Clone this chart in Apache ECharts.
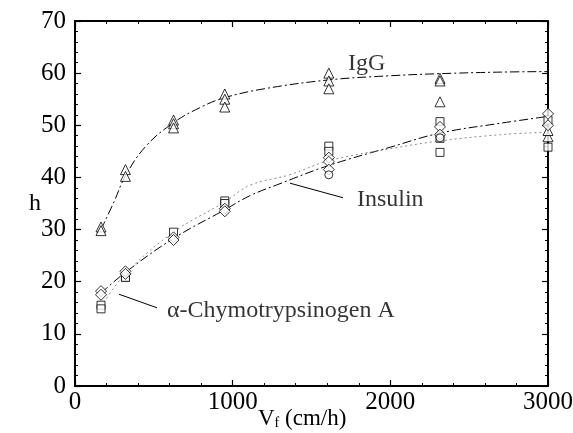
<!DOCTYPE html>
<html><head><meta charset="utf-8">
<script src="https://cdn.jsdelivr.net/npm/echarts@6/dist/echarts.min.js"></script>
<style>html,body{margin:0;padding:0;background:#fff}#c{width:573px;height:433px}</style>
</head><body><div id="c"></div>
<script>
// ---- data ----
const xTicks = [0, 1000, 2000, 3000];
const yTicks = [0, 10, 20, 30, 40, 50, 60, 70];
const triangles = [[165,30.5],[165,29.8],[320,41.5],[320,40.2],[625,51],[625,50.3],[625,49.5],[950,56],[950,55],[950,53.5],[1610,60],[1610,58.5],[1610,57],[2315,59],[2315,58.5],[2315,54.5],[3000,47.8],[3000,49]];
const squares = [[165,15.5],[165,14.8],[320,21],[320,20.8],[625,29.5],[950,35.5],[950,35],[1610,46],[1610,45],[2315,50.7],[2315,47.5],[2315,44.8],[3000,51],[3000,45.8]];
const diamonds = [[165,18.2],[165,17.5],[320,22],[320,21.5],[625,28.5],[625,28],[950,34],[950,33.5],[1610,43.8],[1610,43],[1610,41.5],[2315,49.7],[2315,48.2],[3000,52.2],[3000,50]];
const circles = [[1610,40.5],[2315,47.6]];
const iggX = [165,250,320,450,625,800,950,1200,1610,2000,2315,2700,3000];
const iggY = [30,35.5,40.3,46,50.5,53.5,55.3,57,58.7,59.5,59.9,60.2,60.3];
const chymoX = [165,320,625,950,1110,1300,1610,2000,2315,2700,3000];
const chymoY = [17.8,21.8,28.3,33.8,36.5,38.8,42.3,45.8,48.5,50.4,51.7];
const insX = [165,320,625,950,1110,1360,1610,2000,2315,2700,3000];
const insY = [15.2,21.5,29.5,35.3,38.5,40.5,43.2,45.5,47,48.2,48.7];
const labelTexts = ['IgG', 'Insulin', 'α-Chymotrypsinogen A'];
const labelPos = [[1731,61.8],[1788,35.7],[583,14.4]];
const insLeader = [[1363,38.9],[1700,36.1]];
const chymoLeader = [[279,17.6],[520,15]];

const zip = (xs, ys) => xs.map((x, i) => [x, ys[i]]);
const FONT = "'Liberation Serif', 'DejaVu Serif', serif";
const chart = echarts.init(document.getElementById('c'), null, {renderer: 'canvas'});
const axisCommon = {
  axisLine: {show: true, onZero: false, lineStyle: {color: '#000', width: 2}},
  axisTick: {show: true, inside: true, length: 6, lineStyle: {color: '#000', width: 1.2}},
  minorTick: {show: true, splitNumber: 5, length: 3, lineStyle: {color: '#000', width: 1}},
  splitLine: {show: false}
};
const marker = (name, sym, data, size) => ({
  name, type: 'scatter', symbol: sym, symbolSize: size, data, z: 5,
  itemStyle: {color: '#fff', borderColor: '#000', borderWidth: 1}
});
const curve = (data, type, color, width) => ({
  type: 'line', data, smooth: 0.4, symbol: 'none', z: 3,
  lineStyle: {color, width, type}
});
chart.setOption({
  animation: false,
  grid: {left: 75, right: 25, top: 21, bottom: 47, containLabel: false, outerBoundsMode: 'none'},
  graphic: [{
    type: 'text', left: 258, top: 407, z: 10,
    style: {
      text: '{v|V}{s|f}{v| (cm/h)}',
      x: 0, y: 0,
      rich: {
        v: {fontFamily: FONT, fontSize: 23, fill: '#000', lineHeight: 24},
        s: {fontFamily: FONT, fontSize: 14, fill: '#000', lineHeight: 24, verticalAlign: 'bottom', padding: [8, 0, 0, 0]}
      }
    }
  }],
  xAxis: [
    Object.assign({type: 'value', min: 0, max: 3000, interval: 1000, position: 'bottom',
      axisLabel: {fontFamily: FONT, fontSize: 25, color: '#000', margin: 4, formatter: v => String(v)}}, axisCommon),
    Object.assign({type: 'value', min: 0, max: 3000, interval: 1000, position: 'top', axisLabel: {show: false}}, axisCommon)
  ],
  yAxis: [
    Object.assign({type: 'value', min: 0, max: 70, interval: 10, position: 'left',
      name: 'h', nameLocation: 'middle', nameGap: 34, nameRotate: 0, nameMoveOverlap: false,
      nameTextStyle: {fontFamily: FONT, fontSize: 24, color: '#000'},
      axisLabel: {fontFamily: FONT, fontSize: 25, color: '#000', margin: 9, formatter: v => String(v)}}, axisCommon),
    Object.assign({type: 'value', min: 0, max: 70, interval: 10, position: 'right', axisLabel: {show: false}}, axisCommon)
  ],
  series: [
    curve(zip(iggX, iggY), [9, 3, 2, 3], '#000', 1),
    curve(zip(chymoX, chymoY), [9, 3, 2, 3], '#000', 1),
    curve(zip(insX, insY), [2, 3], '#888', 1),
    {type: 'line', data: insLeader, symbol: 'none', lineStyle: {color: '#000', width: 1}},
    {type: 'line', data: chymoLeader, symbol: 'none', lineStyle: {color: '#000', width: 1}},
    marker('tri', 'triangle', triangles, 10),
    marker('sq', 'rect', squares, 8),
    marker('dia', 'diamond', diamonds, 11),
    marker('cir', 'circle', circles, 8),
    {type: 'scatter', symbolSize: 0, z: 6,
      data: labelPos.map((p, i) => ({value: p, name: labelTexts[i]})),
      label: {show: true, position: 'right', distance: 0, formatter: p => p.name,
        fontFamily: FONT, fontSize: 24, color: '#000'}}
  ]
});
</script></body></html>
